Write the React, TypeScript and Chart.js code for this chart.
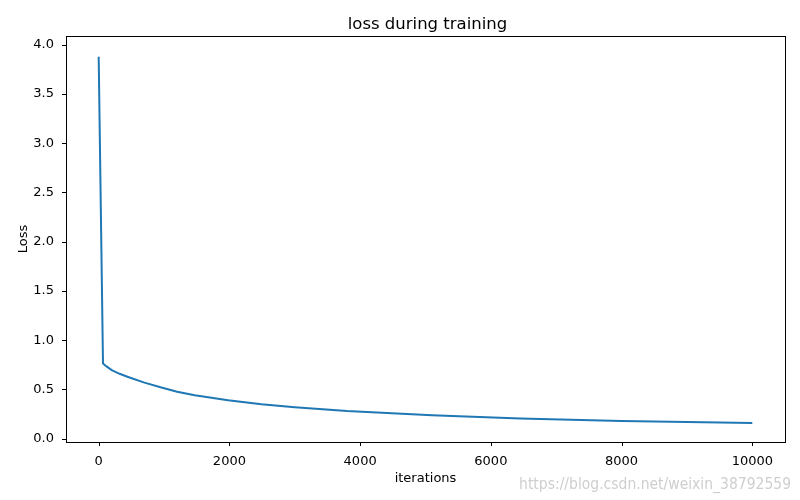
import React, { useEffect, useRef } from "react";
import { Chart, registerables } from "chart.js";

Chart.register(...registerables);

const iterations = [0, 66, 120, 200, 320, 450, 700, 960, 1200, 1470, 1980, 2490, 3000, 3800, 5100, 6450, 8000, 9000, 10000];
const lossValues = [3.88, 0.762, 0.733, 0.695, 0.658, 0.626, 0.568, 0.518, 0.476, 0.44, 0.39, 0.349, 0.318, 0.28, 0.238, 0.203, 0.178, 0.167, 0.157];
const xTicks = [0, 2000, 4000, 6000, 8000, 10000];
const yTicks = [0.0, 0.5, 1.0, 1.5, 2.0, 2.5, 3.0, 3.5, 4.0];
const titleText = "loss during training";
const xLabel = "iterations";
const yLabel = "Loss";
const watermark = "https://blog.csdn.net/weixin_38792559";

const FONT = "'DejaVu Sans', sans-serif";

export default function App() {
  const ref = useRef<HTMLCanvasElement>(null);
  useEffect(() => {
    const canvas = ref.current!;
    const decor = {
      id: "decor",
      afterDraw(chart: any) {
        const { ctx, chartArea } = chart;
        ctx.save();
        ctx.strokeStyle = "#000";
        ctx.lineWidth = 1;
        ctx.strokeRect(Math.round(chartArea.left) + 0.5, Math.round(chartArea.top) + 0.5, Math.round(chartArea.right - chartArea.left), Math.round(chartArea.bottom - chartArea.top));
        ctx.fillStyle = "#000";
        ctx.textAlign = "center";
        ctx.textBaseline = "alphabetic";
        ctx.font = `16.5px ${FONT}`;
        ctx.fillText(titleText, (chartArea.left + chartArea.right) / 2 + 2, 29);
        ctx.font = `13px ${FONT}`;
        ctx.fillText(xLabel, (chartArea.left + chartArea.right) / 2, 482);
        ctx.save();
        ctx.translate(27, (chartArea.top + chartArea.bottom) / 2);
        ctx.rotate(-Math.PI / 2);
        ctx.fillText(yLabel, 0, 0);
        ctx.restore();
        ctx.fillStyle = "rgba(190,190,190,0.75)";
        ctx.textAlign = "right";
        ctx.font = `15.5px 'Liberation Sans Narrow', 'DejaVu Sans Condensed', 'Liberation Sans', sans-serif`;
        ctx.fillText(watermark, 791, 489);
        ctx.restore();
      },
    };
    const chart = new Chart(canvas, {
      type: "line",
      data: {
        datasets: [
          {
            data: iterations.map((x, i) => ({ x, y: lossValues[i] })),
            borderColor: "#1f77b4",
            borderWidth: 2,
            borderJoinStyle: "round",
            borderCapStyle: "butt",
            pointRadius: 0,
            fill: false,
            tension: 0,
          },
        ],
      },
      options: {
        animation: false,
        responsive: false,
        layout: { padding: { top: 36, right: 15, left: 0, bottom: 0 } },
        plugins: { legend: { display: false }, title: { display: false }, tooltip: { enabled: false } },
        scales: {
          x: {
            type: "linear",
            min: -500,
            max: 10500,
            grid: { display: false, drawTicks: true },
            border: { display: false },
            afterBuildTicks(axis: any) {
              axis.ticks = xTicks.map((v) => ({ value: v }));
            },
            afterFit(axis: any) {
              axis.height = 58;
            },
            ticks: {
              color: "#000",
              font: { family: FONT, size: 13 },
              maxRotation: 0,
              padding: 4,
              callback: (v: any) => String(v),
            },
          },
          y: {
            type: "linear",
            min: -0.035,
            max: 4.09,
            grid: { display: false },
            border: { display: false },
            afterBuildTicks(axis: any) {
              axis.ticks = yTicks.map((v) => ({ value: v }));
            },
            afterFit(axis: any) {
              axis.width = 66;
            },
            ticks: {
              color: "#000",
              font: { family: FONT, size: 13 },
              padding: 4,
              callback: (v: any) => Number(v).toFixed(1),
            },
          },
        },
      },
      plugins: [
        decor,
        {
          id: "tickMarks",
          afterDraw(chart: any) {
            const { ctx, chartArea, scales } = chart;
            ctx.save();
            ctx.strokeStyle = "#000";
            ctx.lineWidth = 1;
            ctx.beginPath();
            xTicks.forEach((v) => {
              const px = Math.round(scales.x.getPixelForValue(v)) + 0.5;
              ctx.moveTo(px, chartArea.bottom);
              ctx.lineTo(px, chartArea.bottom + 4);
            });
            yTicks.forEach((v) => {
              const py = Math.round(scales.y.getPixelForValue(v)) + 0.5;
              ctx.moveTo(chartArea.left, py);
              ctx.lineTo(chartArea.left - 4, py);
            });
            ctx.stroke();
            ctx.restore();
          },
        },
      ],
    } as any);
    return () => chart.destroy();
  }, []);
  return (
    <div style={{ position: "fixed", left: 0, top: 0, width: 800, height: 500, background: "#fff" }}>
      <canvas ref={ref} width={800} height={500} style={{ width: 800, height: 500, display: "block" }} />
    </div>
  );
}
